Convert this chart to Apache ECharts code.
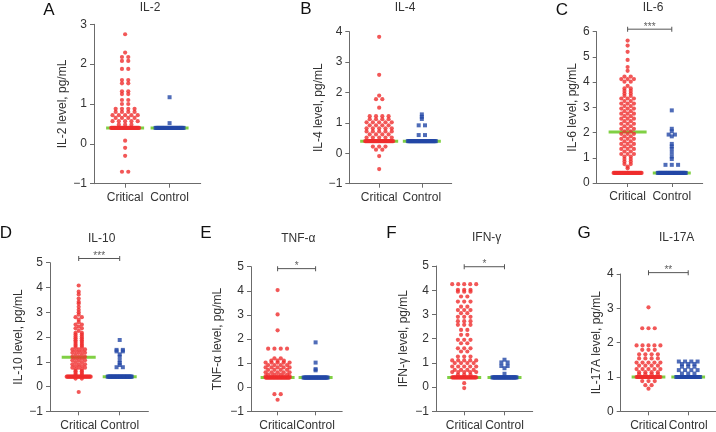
<!DOCTYPE html>
<html>
<head>
<meta charset="utf-8">
<script src="https://cdn.jsdelivr.net/npm/echarts@6/dist/echarts.min.js"></script>
<style>
  html, body { margin: 0; padding: 0; background: #fff; }
  #main { width: 716px; height: 432px; }
</style>
</head>
<body>
<div id="main"></div>
<script>
// categories on every panel
var categories = ['Critical', 'Control'];

// each row: [level pg/mL, number of dots at that level]
var il2Critical = [[2.75,1],[2.29,1],[2.18,2],[2.08,2],[1.88,2],[1.6,2],[1.52,2],[1.32,2],[1.25,2],[1.1,2],[1.0,2],[0.88,4],[0.8,4],[0.72,5],[0.65,4],[0.57,5],[0.48,3],[0.4,40],[0.08,1],[-0.1,1],[-0.3,1],[-0.7,2]];
var il2Control = [[1.17,1],[0.52,1],[0.4,30]];

var il4Critical = [[3.83,1],[2.58,1],[1.9,1],[1.78,2],[1.5,1],[1.22,4],[1.12,4],[1.02,5],[0.92,4],[0.82,5],[0.72,5],[0.62,4],[0.52,5],[0.4,35],[0.22,3],[0.12,2],[-0.09,1],[-0.52,1]];
var il4Control = [[1.28,1],[1.2,1],[1.13,1],[0.92,2],[0.6,2],[0.4,30]];

var il6Critical = [[5.65,1],[5.45,1],[5.2,1],[4.88,1],[4.6,1],[4.45,1],[4.22,2],[4.12,3],[4.02,2],[3.85,1],[3.75,2],[3.65,2],[3.55,2],[3.45,2],[3.35,3],[3.25,2],[3.15,3],[3.05,2],[2.95,3],[2.85,2],[2.75,3],[2.65,2],[2.55,3],[2.45,2],[2.35,3],[2.25,2],[2.15,3],[2.05,2],[1.95,3],[1.85,2],[1.75,3],[1.65,2],[1.55,3],[1.45,2],[1.35,3],[1.25,2],[1.15,3],[1.05,2],[0.95,2],[0.85,2],[0.75,2],[0.65,1],[0.58,1],[0.4,38]];
var il6Control = [[2.88,1],[2.15,1],[2.05,1],[1.92,2],[1.85,1],[1.55,1],[1.45,1],[1.35,1],[1.2,1],[1.05,1],[0.95,1],[0.72,3],[0.4,35]];

var il10Critical = [[4.08,1],[3.83,1],[3.72,1],[3.55,1],[3.42,1],[3.35,1],[3.22,1],[3.1,1],[3.0,1],[2.9,1],[2.8,2],[2.7,1],[2.6,1],[2.5,2],[2.42,1],[2.35,2],[2.25,1],[2.17,2],[2.1,2],[2.02,2],[1.95,2],[1.87,2],[1.8,2],[1.72,2],[1.65,2],[1.58,2],[1.5,3],[1.43,2],[1.36,3],[1.28,2],[1.2,3],[1.13,2],[1.06,3],[0.98,2],[0.9,3],[0.83,2],[0.76,3],[0.69,2],[0.62,2],[0.55,2],[0.48,2],[0.4,30],[0.32,2],[-0.22,1]];
var il10Control = [[1.88,1],[1.48,2],[1.42,2],[1.3,1],[1.2,1],[1.05,1],[0.95,1],[0.87,1],[0.78,2],[0.4,32]];

var tnfCritical = [[4.03,1],[3.02,1],[2.36,1],[1.6,4],[1.2,2],[1.1,3],[1.02,5],[0.92,4],[0.82,5],[0.72,4],[0.62,5],[0.52,4],[0.46,5],[0.4,30],[-0.29,2],[-0.52,1]];
var tnfControl = [[1.86,1],[1.02,1],[0.75,1],[0.7,1],[0.4,28]];

var ifnCritical = [[4.25,5],[4.02,3],[3.94,3],[3.74,2],[3.53,3],[3.32,2],[3.18,3],[3.05,2],[2.9,3],[2.72,3],[2.57,3],[2.36,2],[2.16,2],[1.95,3],[1.81,2],[1.6,3],[1.47,2],[1.26,3],[1.1,5],[0.99,4],[0.85,5],[0.71,4],[0.62,5],[0.51,3],[0.4,30],[0.16,1],[-0.04,1]];
var ifnControl = [[1.13,1],[1.02,2],[0.87,2],[0.78,1],[0.55,1],[0.4,30]];

var il17Critical = [[3.03,1],[2.42,3],[1.92,5],[1.79,3],[1.66,4],[1.54,4],[1.42,5],[1.33,4],[1.23,5],[1.14,4],[1.08,4],[1.0,30],[0.88,3],[0.76,2],[0.66,1]];
var il17Control = [[1.45,4],[1.38,3],[1.3,3],[1.2,4],[1.1,3],[1.0,28]];

// medians [critical, control]
var il2Median = [0.4, 0.4];
var il4Median = [0.4, 0.4];
var il6Median = [2.02, 0.4];
var il10Median = [1.18, 0.4];
var tnfMedian = [0.4, 0.4];
var ifnMedian = [0.4, 0.4];
var il17Median = [1.0, 1.0];

// significance: [bracket level, stars]
var il6Sig = [6.1, '***'];
var il10Sig = [5.17, '***'];
var tnfSig = [4.92, '*'];
var ifnSig = [4.97, '*'];
var il17Sig = [4.04, '**'];

// y axis ranges [min, max]
var il2Range = [-1, 3];
var il4Range = [-1, 4];
var il6Range = [0, 6];
var il10Range = [-1, 5];
var tnfRange = [-1, 5];
var ifnRange = [-1, 5];
var il17Range = [0, 4];

var panels = [
  { letter: 'A', title: 'IL-2', yName: 'IL-2 level, pg/mL', crit: il2Critical, ctrl: il2Control, med: il2Median, sig: null, range: il2Range,
    box: [94, 24.3, 106.7, 159.4], titlePos: [150, 8], letterPos: [49, 10], gap: 25, top: true },
  { letter: 'B', title: 'IL-4', yName: 'IL-4 level, pg/mL', crit: il4Critical, ctrl: il4Control, med: il4Median, sig: null, range: il4Range,
    box: [349.3, 31.7, 102.4, 152], titlePos: [405, 8], letterPos: [306, 9], gap: 18.5, top: true },
  { letter: 'C', title: 'IL-6', yName: 'IL-6 level, pg/mL', crit: il6Critical, ctrl: il6Control, med: il6Median, sig: il6Sig, range: il6Range,
    box: [596.7, 31.7, 106, 151.3], titlePos: [653, 8], letterPos: [562, 10], gap: 14.5, top: true },
  { letter: 'D', title: 'IL-10', yName: 'IL-10 level, pg/mL', crit: il10Critical, ctrl: il10Control, med: il10Median, sig: il10Sig, range: il10Range,
    box: [50, 262.7, 98.4, 148.6], titlePos: [101.7, 238.3], letterPos: [6, 233], gap: 25, top: false },
  { letter: 'E', title: 'TNF-α', yName: 'TNF-α level, pg/mL', crit: tnfCritical, ctrl: tnfControl, med: tnfMedian, sig: tnfSig, range: tnfRange,
    box: [251, 266.7, 91.2, 144.6], titlePos: [298.3, 238.3], letterPos: [206, 233], gap: 27, top: false },
  { letter: 'F', title: 'IFN-γ', yName: 'IFN-γ level, pg/mL', crit: ifnCritical, ctrl: ifnControl, med: ifnMedian, sig: ifnSig, range: ifnRange,
    box: [436, 266, 96.7, 145.3], titlePos: [486.7, 238], letterPos: [391.5, 233], gap: 26.7, top: false },
  { letter: 'G', title: 'IL-17A', yName: 'IL-17A level, pg/mL', crit: il17Critical, ctrl: il17Control, med: il17Median, sig: il17Sig, range: il17Range,
    box: [620.7, 274, 96, 137.3], titlePos: [676.7, 238], letterPos: [584, 233], gap: 17, top: false }
];

var RED = '#ef2d2d';
var BLUE = '#2347a6';
var GREEN = '#80d044';
var AXIS = '#6b6b6b';
var FONT = '"Liberation Sans", Arial, sans-serif';
var X_MIN = -0.7, X_MAX = 1.7;

// lay out each row side by side around the category position
function swarm(rows, center, unitPerPx, maxHalf) {
  var pts = [];
  rows.forEach(function (r) {
    var n = r[1];
    var s = 6.3;
    if (n > 1 && (n - 1) * s / 2 > maxHalf) s = 2 * maxHalf / (n - 1);
    for (var i = 0; i < n; i++) {
      pts.push([center + (i - (n - 1) / 2) * s * unitPerPx, r[0]]);
    }
  });
  return pts;
}

var grids = [], xAxes = [], yAxes = [], series = [], graphics = [];

panels.forEach(function (p, k) {
  var b = p.box;
  grids.push({ left: b[0], top: b[1], width: b[2], height: b[3] });
  var unitPerPx = (X_MAX - X_MIN) / b[2];
  var maxHalf = p.top ? 14 : 12;
  var medHalf = (p.top ? 19 : 17) * unitPerPx;

  xAxes.push({
    type: 'value', gridIndex: k, min: X_MIN, max: X_MAX,
    axisLine: { show: true, onZero: false, lineStyle: { color: AXIS, width: 1 } },
    axisTick: { show: true, length: 4, customValues: [0, 1], lineStyle: { color: AXIS } },
    axisLabel: { show: true, customValues: [0, 1], margin: 8, fontSize: 12, color: '#333', fontFamily: FONT,
      formatter: function (v) { return categories[Math.round(v)]; } },
    splitLine: { show: false }
  });
  yAxes.push({
    type: 'value', gridIndex: k, min: p.range[0], max: p.range[1], interval: 1,
    name: p.yName, nameLocation: 'middle', nameGap: p.gap, nameRotate: 90,
    nameTextStyle: { fontSize: 12, color: '#333', fontFamily: FONT },
    axisLine: { show: true, onZero: false, lineStyle: { color: AXIS, width: 1 } },
    axisTick: { show: true, length: 4, lineStyle: { color: AXIS } },
    axisLabel: { margin: 7, fontSize: 12, color: '#333', fontFamily: FONT,
      formatter: function (v) { return v < 0 ? '\u2212' + (-v) : String(v); } },
    splitLine: { show: false }
  });

  // median lines (behind the dots)
  [0, 1].forEach(function (c) {
    series.push({
      type: 'line', xAxisIndex: k, yAxisIndex: k, z: 1, silent: true, showSymbol: false, clip: false,
      data: [[c - medHalf, p.med[c]], [c + medHalf, p.med[c]]],
      lineStyle: { color: GREEN, width: 3 }
    });
  });

  series.push({
    type: 'scatter', xAxisIndex: k, yAxisIndex: k, z: 3, symbol: 'circle', symbolSize: 4.2,
    itemStyle: { color: RED }, data: swarm(p.crit, 0, unitPerPx, maxHalf)
  });
  series.push({
    type: 'scatter', xAxisIndex: k, yAxisIndex: k, z: 3, symbol: 'rect', symbolSize: 4,
    itemStyle: { color: BLUE }, data: swarm(p.ctrl, 1, unitPerPx, maxHalf)
  });

  if (p.sig) {
    series.push({
      type: 'line', xAxisIndex: k, yAxisIndex: k, z: 2, clip: false, silent: true,
      symbol: 'rect', symbolSize: [1, 5], itemStyle: { color: '#555' },
      lineStyle: { color: '#555', width: 1 },
      data: [[0, p.sig[0]], [1, p.sig[0]]]
    });
    series.push({
      type: 'scatter', xAxisIndex: k, yAxisIndex: k, symbolSize: 0, clip: false, silent: true,
      data: [[0.5, p.sig[0]]],
      label: { show: true, position: 'top', distance: -3, formatter: p.sig[1], fontSize: 10, color: '#333', fontFamily: FONT }
    });
  }

  graphics.push({
    type: 'text', x: p.titlePos[0], y: p.titlePos[1],
    style: { text: p.title, fontSize: 12, fill: '#333', fontFamily: FONT, align: 'center', verticalAlign: 'middle' }
  });
  graphics.push({
    type: 'text', x: p.letterPos[0], y: p.letterPos[1],
    style: { text: p.letter, fontSize: 17, fill: '#111', fontFamily: FONT, align: 'center', verticalAlign: 'middle' }
  });
});

var chartDom = document.getElementById('main');
var myChart = echarts.init(chartDom, null, { renderer: 'canvas' });
var option = {
  animation: false,
  backgroundColor: '#fff',
  grid: grids,
  xAxis: xAxes,
  yAxis: yAxes,
  series: series,
  graphic: graphics
};
myChart.setOption(option);
</script>
</body>
</html>
